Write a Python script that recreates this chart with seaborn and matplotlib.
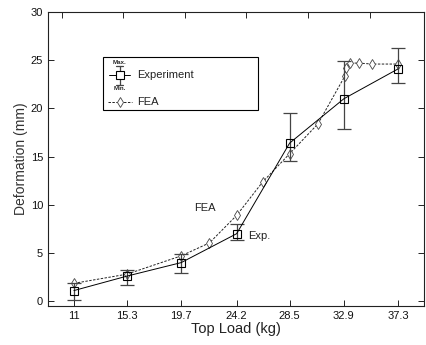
import matplotlib
matplotlib.use("Agg")
import matplotlib.pyplot as plt
import seaborn as sns
import numpy as np
import pandas as pd
from matplotlib.patches import Rectangle
from matplotlib.lines import Line2D

# ---- data ----
load_ticks = [11, 15.3, 19.7, 24.2, 28.5, 32.9, 37.3]
exp_load = [11, 15.3, 19.7, 24.2, 28.5, 32.9, 37.3]
exp_mean = [1.1, 2.6, 4.0, 7.0, 16.4, 21.0, 24.1]
exp_max = [1.9, 3.2, 4.9, 8.0, 19.5, 24.9, 26.3]
exp_min = [0.1, 1.7, 2.9, 6.3, 14.5, 17.9, 22.6]

fea_load = [11, 15.3, 19.7, 22.0, 24.2, 26.3, 28.5, 30.8, 33.0, 33.1, 33.4, 34.1, 35.2, 37.3]
fea_def = [1.85, 2.8, 4.7, 6.05, 8.9, 12.35, 15.3, 18.4, 23.4, 24.2, 24.7, 24.7, 24.6, 24.6]

y_ticks = [0, 5, 10, 15, 20, 25, 30]
top_ticks = [10, 15, 20, 25, 30, 35]

exp_df = pd.DataFrame({"load": exp_load, "def": exp_mean})
fea_df = pd.DataFrame({"load": fea_load, "def": fea_def})

sns.set_style("ticks")
plt.rcParams["font.family"] = ["Liberation Sans", "DejaVu Sans"]

fig = plt.figure(figsize=(4.26, 3.45), dpi=100)
ax = fig.add_axes([48/426, 1-306/345, 376/426, 294/345])

lw = 0.7
sns.lineplot(data=fea_df, x="load", y="def", ax=ax, color="#222222", lw=lw,
             linestyle=(0, (2.5, 1.5)), marker="d", markersize=5,
             markerfacecolor="white", markeredgecolor="#444444", markeredgewidth=0.6,
             legend=False)
sns.lineplot(data=exp_df, x="load", y="def", ax=ax, color="black", lw=lw,
             marker="s", markersize=5.5, markerfacecolor="none",
             markeredgecolor="black", markeredgewidth=0.8, legend=False, zorder=3)
yerr = np.array([np.array(exp_mean) - np.array(exp_min), np.array(exp_max) - np.array(exp_mean)])
ax.errorbar(exp_load, exp_mean, yerr=yerr, fmt="none", ecolor="#444444",
            elinewidth=0.9, capsize=5, capthick=0.9, zorder=2)

ax.set_xlim(8.9, 39.4)
ax.set_ylim(-0.5, 30)
ax.set_xticks(load_ticks)
ax.set_xticklabels([str(v) for v in load_ticks])
ax.set_yticks(y_ticks)
ax.tick_params(axis="both", direction="in", length=4, width=0.7, labelsize=8,
               right=True, colors="#222222", labelcolor="#111111")
secx = ax.secondary_xaxis("top")
secx.set_xticks(top_ticks)
secx.tick_params(direction="in", length=4, width=0.7, labeltop=False)
for s in ax.spines.values():
    s.set_linewidth(0.8)
    s.set_color("#222222")
    s.set_visible(True)
secx.spines["top"].set_visible(False)

ax.set_xlabel("Top Load (kg)", fontsize=10.5, labelpad=1, color="#222222")
ax.set_ylabel("Deformation (mm)", fontsize=10, labelpad=2, color="#333333")

ax.text(21.6, 9.7, "FEA", fontsize=8, ha="center", va="center", color="#222222")
ax.text(25.1, 6.75, "Exp.", fontsize=8, ha="left", va="center", color="#222222")

# ---- manual legend (axes fraction) ----
T = ax.transAxes
def fx(px):
    return (px - 48) / 376
def fy(py):
    return 1 - (py - 12) / 294
ax.add_patch(Rectangle((fx(103), fy(110)), fx(258) - fx(103), fy(57) - fy(110),
                       transform=T, facecolor="white", edgecolor="black", lw=0.8, zorder=5))
# experiment glyph
ax.add_line(Line2D([fx(109), fx(130)], [fy(75), fy(75)], transform=T, color="black", lw=lw, zorder=6))
ax.add_line(Line2D([fx(120), fx(120)], [fy(66), fy(85)], transform=T, color="#444444", lw=0.9, zorder=6))
for yy in (66, 85):
    ax.add_line(Line2D([fx(116.5), fx(123.5)], [fy(yy), fy(yy)], transform=T, color="#444444", lw=0.9, zorder=6))
ax.add_line(Line2D([fx(120)], [fy(75)], transform=T, marker="s", markersize=5.5,
                   markerfacecolor="white", markeredgecolor="black", markeredgewidth=0.8, zorder=7))
ax.text(fx(120), fy(62), "Max.", transform=T, fontsize=4.5, fontweight="bold", ha="center", va="center", zorder=7)
ax.text(fx(120), fy(89), "Min.", transform=T, fontsize=4.5, fontweight="bold", ha="center", va="center", zorder=7)
ax.text(fx(137), fy(75), "Experiment", transform=T, fontsize=8, ha="left", va="center", zorder=7, color="#222222")
# FEA glyph
ax.add_line(Line2D([fx(108), fx(132)], [fy(102), fy(102)], transform=T, color="#222222", lw=lw,
                   linestyle=(0, (2.5, 1.5)), zorder=6))
ax.add_line(Line2D([fx(120)], [fy(102)], transform=T, marker="d", markersize=5,
                   markerfacecolor="white", markeredgecolor="#444444", markeredgewidth=0.6, zorder=7))
ax.text(fx(137), fy(102), "FEA", transform=T, fontsize=8, ha="left", va="center", zorder=7, color="#222222")

fig.savefig("out.png", dpi=100)
